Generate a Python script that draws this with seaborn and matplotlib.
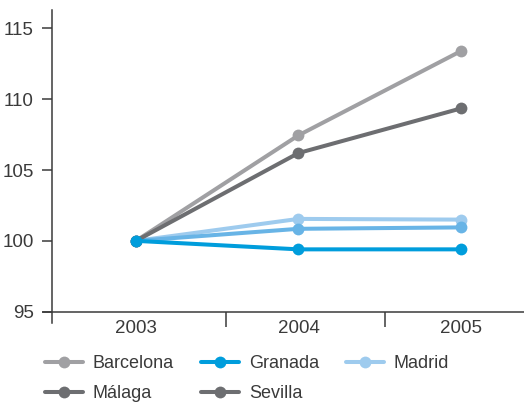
import matplotlib
matplotlib.use("Agg")
import matplotlib.pyplot as plt
import seaborn as sns
import pandas as pd
from matplotlib.lines import Line2D

# values (index, 2003 = 100)
years = [2003, 2004, 2005]
barcelona = [100, 107.45, 113.4]
granada = [100, 99.4, 99.4]
madrid = [100, 101.55, 101.5]
malaga = [100, 106.2, 109.35]
sevilla = [100, 100.85, 100.95]

cities = ["Barcelona", "Granada", "Madrid", "Málaga", "Sevilla"]
line_colors = {"Barcelona": "#a0a0a3", "Granada": "#009ddc", "Madrid": "#9ecbee",
               "Málaga": "#6d6e71", "Sevilla": "#68b4e6"}
legend_colors = {"Barcelona": "#a0a0a3", "Granada": "#009ddc", "Madrid": "#9ecbee",
                 "Málaga": "#6d6e71", "Sevilla": "#6d6e71"}

df = pd.DataFrame({
    "year": years * 5,
    "value": barcelona + granada + madrid + malaga + sevilla,
    "city": [c for c in cities for _ in years],
})

sns.set_style("white")
plt.rcParams["font.family"] = ["Liberation Sans", "DejaVu Sans"]

fig = plt.figure(figsize=(5.24, 4.05), dpi=100)
ax = fig.add_axes([43 / 524, 82 / 405, 481 / 524, 313 / 405])

# draw order so Granada's first point sits on top
draw_order = ["Madrid", "Sevilla", "Barcelona", "Málaga", "Granada"]
for c in draw_order:
    sns.lineplot(data=df[df["city"] == c], x="year", y="value", ax=ax,
                 color=line_colors[c], linewidth=2.9, marker="o",
                 markersize=8.5, markeredgewidth=0, legend=False)

ax.set_xlim(2002.428, 2005.388)
ax.set_ylim(94.2, 116.3)
ax.set_yticks([95, 100, 105, 110, 115])
ax.set_xticks(years)
ax.set_xticks([2003.554, 2004.532], minor=True)
ax.set_xlabel("")
ax.set_ylabel("")

for s in ["top", "right"]:
    ax.spines[s].set_visible(False)
ax.spines["bottom"].set_position(("data", 95))
ax.spines["left"].set_position(("data", 2002.483))
for s in ["bottom", "left"]:
    ax.spines[s].set_color("#3a3a3a")
    ax.spines[s].set_linewidth(1.1)

ax.tick_params(axis="y", direction="out", length=7, width=1.1, color="#3a3a3a",
               labelsize=13.5, labelcolor="#3a3a3a", pad=6, left=True)
ax.tick_params(axis="x", which="major", length=0, labelsize=13.5,
               labelcolor="#3a3a3a", pad=6)
ax.tick_params(axis="x", which="minor", direction="out", length=11, width=1.1,
               color="#3a3a3a", bottom=True)

legend_order = ["Barcelona", "Málaga", "Granada", "Sevilla", "Madrid"]
handles = [Line2D([0], [0], color=legend_colors[c], linewidth=2.9, marker="o",
                  markersize=8.5, markeredgewidth=0) for c in legend_order]
fig.legend(handles, legend_order, ncol=3, loc="lower left",
           bbox_to_anchor=(45 / 524, 3 / 405), frameon=False, fontsize=13,
           handlelength=2.1, handletextpad=0.55, columnspacing=1.5,
           labelspacing=0.7, borderpad=0, borderaxespad=0,
           labelcolor="#3a3a3a")

fig.savefig("out.png", dpi=100)
